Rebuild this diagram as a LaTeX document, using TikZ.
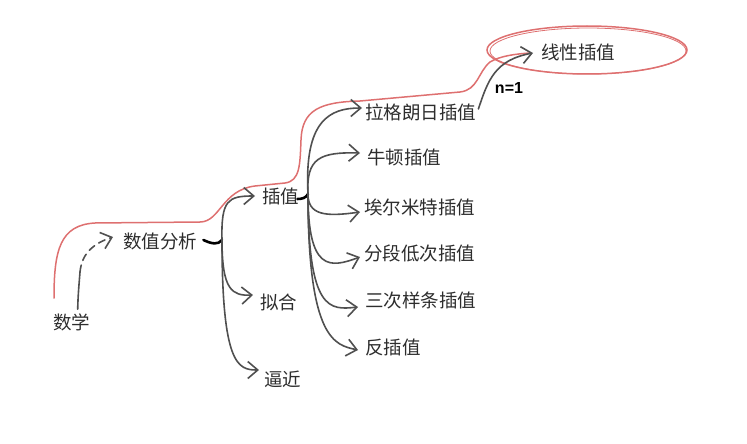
\documentclass[tikz,border=0pt]{standalone}
\usepackage{fontspec}
\newfontfamily\cjk{Noto Sans CJK SC}
\newfontfamily\hand{Liberation Sans}
\usetikzlibrary{arrows.meta,calc}
\definecolor{redline}{RGB}{222,112,112}
\definecolor{gline}{RGB}{80,80,80}
\definecolor{txt}{RGB}{45,45,45}
\begin{document}
\begin{tikzpicture}[x=1pt,y=-1pt,
  lbl/.style={font=\cjk\fontsize{18.5}{20}\selectfont, text=txt, inner sep=0pt, anchor=west},
  gl/.style={draw=gline, line width=1.6pt, line cap=round},
  conn/.style={gl, -{Straight Barb[length=10pt,width=17pt,line width=1.6pt]}},
  hookline/.style={draw=black, line width=2.6pt, line cap=round},
  redpath/.style={draw=redline, line width=1.5pt, line cap=round}]
\useasboundingbox (0,0) rectangle (747,444);

% nodes
\node[lbl] (n0) at (53,322) {数学};
\node[lbl] (n1) at (123,241) {数值分析};
\node[lbl] (n2) at (262,196) {插值};
\node[lbl] (n3) at (260,302) {拟合};
\node[lbl] (n4) at (264,379) {逼近};
\node[lbl] (c1) at (365,112) {拉格朗日插值};
\node[lbl] (c2) at (367,157) {牛顿插值};
\node[lbl] (c3) at (364,207) {埃尔米特插值};
\node[lbl] (c4) at (364,253) {分段低次插值};
\node[lbl] (c5) at (365,300) {三次样条插值};
\node[lbl] (c6) at (365,347) {反插值};
\node[lbl] (lin) at (541,52) {线性插值};
\node[font=\hand\bfseries\fontsize{16}{18}\selectfont, text=black, inner sep=0pt] (nlab) at (509,88) {n=1};

% red highlight path
\draw[redpath] (54,298) .. controls (54,250) and (60,225) .. (95,223)
  -- (200,222) .. controls (220,222) and (222,190) .. (255,186)
  -- (285,183) .. controls (300,181) and (300,165) .. (301,140)
  .. controls (302,110) and (320,102) .. (360,101)
  -- (460,92) .. controls (478,90) and (478,72) .. (490,62)
  .. controls (500,56) and (515,54) .. (530,53);
\draw[redpath] (587,50) ellipse [x radius=100pt, y radius=24pt];
\draw[redline, line width=0.8pt] (588,51) ellipse [x radius=98pt, y radius=23pt];

% 数学 -> 数值分析
\coordinate (m1) at (80,272);
\draw[gl] ($(n0.north)+(6,-4)$) .. controls (78,295) and (79,285) .. (m1);
\draw[conn, dashed, dash pattern=on 7pt off 5pt] (m1) .. controls (82,252) and (95,243) .. ($(n1.west)+(-10,-4)$);

% 数值分析 -> 插值 / 拟合 / 逼近
\coordinate (b1) at (222,240);
\draw[hookline] ($(n1.east)+(6,-1)$) .. controls (212,244) and (218,245) .. (b1);
\draw[conn] (b1) .. controls (221,200) and (228,196) .. ($(n2.west)+(-7,0)$);
\draw[conn] (b1) .. controls (222,290) and (232,296) .. ($(n3.west)+(-7,-7)$);
\draw[conn] (b1) .. controls (222,365) and (238,370) .. ($(n4.west)+(-5,-9)$);

% 插值 -> children
\coordinate (b2) at (308,194);
\draw[hookline] ($(n2.east)+(-2,3)$) .. controls (302,199) and (306,198) .. (b2);
\draw[conn] (b2) .. controls (304,120) and (330,108) .. ($(c1.west)+(-3,-4)$);
\draw[conn] (b2) .. controls (306,158) and (320,152) .. ($(c2.west)+(-7,-4)$);
\draw[conn] (b2) .. controls (308,215) and (325,217) .. ($(c3.west)+(-4,5)$);
\draw[conn] (b2) .. controls (308,272) and (330,268) .. ($(c4.west)+(-4,4)$);
\draw[conn] (b2) .. controls (308,312) and (330,310) .. ($(c5.west)+(-7,7)$);
\draw[conn] (b2) .. controls (308,340) and (335,345) .. ($(c6.west)+(-7,3)$);

% 拉格朗日插值 -> 线性插值
\draw[conn] ($(c1.east)+(2,-3)$) .. controls (488,80) and (495,60) .. ($(lin.west)+(-8,1)$);
\end{tikzpicture}
\end{document}
